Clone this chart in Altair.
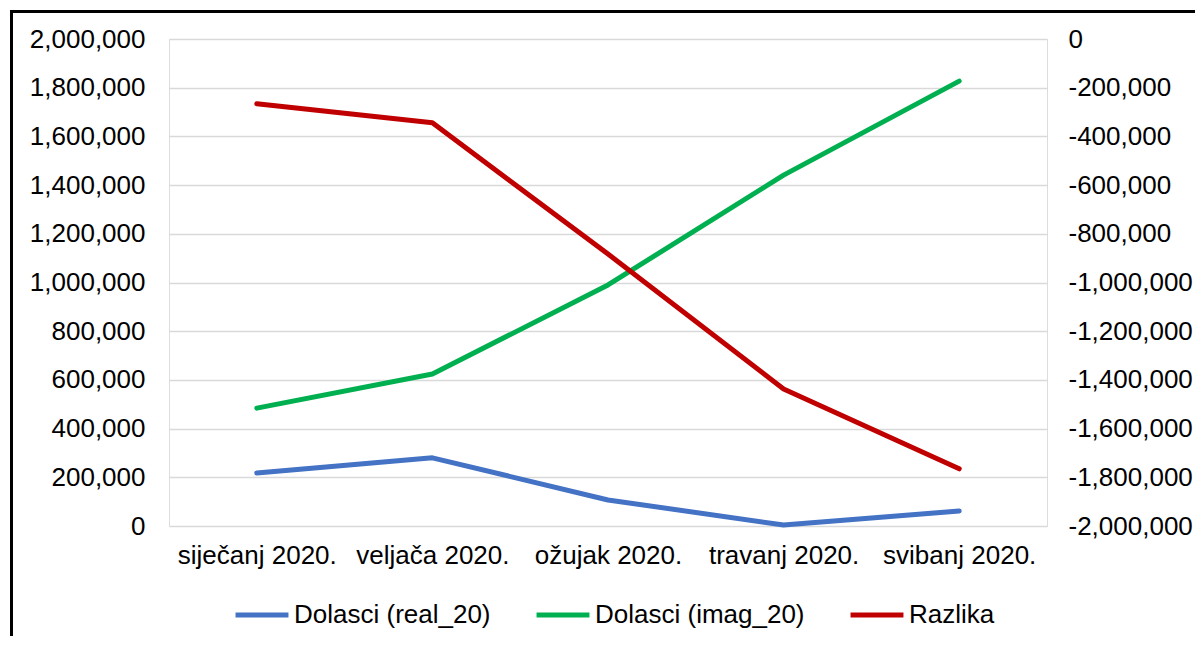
import altair as alt
import pandas as pd

months = ["siječanj 2020.", "veljača 2020.", "ožujak 2020.", "travanj 2020.", "svibanj 2020."]
real_20 = [218000, 280000, 107000, 4000, 62000]
imag_20 = [484000, 624000, 990000, 1441000, 1827000]
razlika = [-266000, -344000, -883000, -1437000, -1765000]

series_names = ["Dolasci (real_20)", "Dolasci (imag_20)", "Razlika"]
series_colors = ["#4472C4", "#00B050", "#C00000"]

left_ticks = list(range(0, 2000001, 200000))
right_ticks = list(range(-2000000, 1, 200000))

rows = []
for i, m in enumerate(months):
    rows.append({"month": m, "series": series_names[0], "value": real_20[i]})
    rows.append({"month": m, "series": series_names[1], "value": imag_20[i]})
df_left = pd.DataFrame(rows)
df_right = pd.DataFrame({"month": months, "series": [series_names[2]] * len(months), "value": razlika})

FONT = "Liberation Sans"
FS = 26

x_enc = alt.X("month:N", sort=months, title=None,
              scale=alt.Scale(paddingInner=0, paddingOuter=0),
              axis=alt.Axis(labelAngle=0, labelFontSize=FS, labelFont=FONT, labelColor="#000000",
                            domain=False, ticks=False, labelPadding=16, labelLimit=300))

color_enc = alt.Color("series:N", title=None,
                      scale=alt.Scale(domain=series_names, range=series_colors),
                      legend=alt.Legend(orient="none", direction="horizontal",
                                        legendX=64, legendY=547,
                                        symbolType="stroke", symbolSize=2800,
                                        symbolStrokeWidth=5, labelFontSize=FS,
                                        labelFont=FONT, labelColor="#000000",
                                        labelOffset=3, columnPadding=35,
                                        labelLimit=400, padding=0))

left = alt.Chart(df_left).mark_line(strokeWidth=5, strokeCap="round", strokeJoin="round").encode(
    x=x_enc,
    y=alt.Y("value:Q", title=None,
            scale=alt.Scale(domain=[0, 2000000], nice=False),
            axis=alt.Axis(values=left_ticks, format=",d", labelFontSize=FS, labelFont=FONT,
                          labelColor="#000000", domain=False, ticks=False, labelPadding=24,
                          grid=True, gridColor="#d9d9d9", gridWidth=1.5)),
    color=color_enc,
)

right = alt.Chart(df_right).mark_line(strokeWidth=5, strokeCap="round", strokeJoin="round").encode(
    x=x_enc,
    y=alt.Y("value:Q", title=None,
            scale=alt.Scale(domain=[-2000000, 0], nice=False),
            axis=alt.Axis(orient="right", values=right_ticks,
                          labelExpr="(datum.value < 0 ? '-' : '') + format(abs(datum.value), ',d')",
                          labelFontSize=FS, labelFont=FONT, labelColor="#000000",
                          domain=False, ticks=False, labelPadding=21, grid=False)),
    color=color_enc,
)

frame = alt.Chart(pd.DataFrame({"f": [0]})).mark_rect(
    fill=None, stroke="#000000", strokeWidth=3, clip=False
).encode(
    x=alt.value(-157.5), x2=alt.value(1100),
    y=alt.value(-27.5), y2=alt.value(700),
)

chart = alt.layer(left, right, frame).resolve_scale(y="independent").properties(
    width=878, height=487,
    autosize=alt.AutoSizeParams(type="none"),
    padding={"left": 161, "top": 31, "right": 148, "bottom": 110},
).configure_view(stroke=None).configure(background="#ffffff")

chart.save("out.html", embed_options={"renderer": "svg", "actions": False})
